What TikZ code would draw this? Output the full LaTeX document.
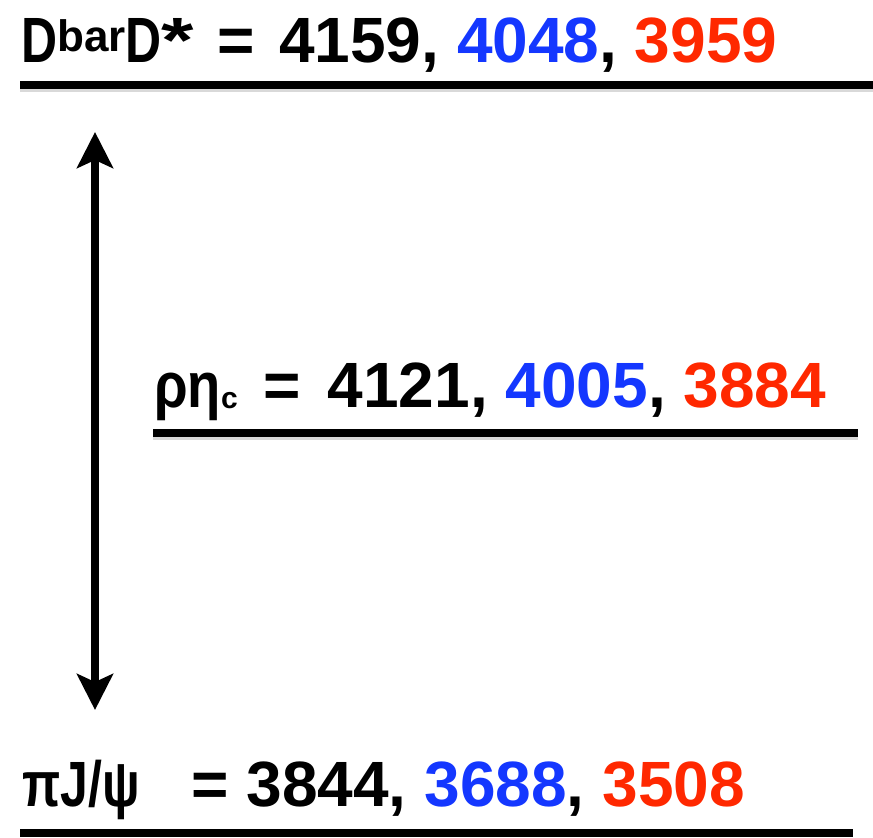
\documentclass[tikz,border=0pt]{standalone}
\usepackage{fontspec}
\setmainfont{Liberation Sans}
\usetikzlibrary{arrows.meta}
\definecolor{ablue}{RGB}{20,55,255}
\definecolor{ared}{RGB}{255,40,0}
\newcommand{\mysup}[1]{\raisebox{11pt}{\fontsize{44}{44}\selectfont #1}}
\newcommand{\mysub}[1]{\raisebox{-1pt}{\fontsize{30}{30}\selectfont #1}}
\newcommand{\narrow}[2]{\scalebox{#1}[1]{#2}}
\begin{document}
\begin{tikzpicture}[x=1pt,y=-1pt,
  lbl/.style={anchor=base west,inner sep=0pt,font=\fontsize{64}{64}\selectfont\bfseries},
  level/.style={line width=8pt},
  shadow/.style={line width=8pt,black!15},
  dbl/.style={line width=7.5pt,{Stealth[length=36pt,width=36pt,inset=8pt]}-{Stealth[length=36pt,width=36pt,inset=8pt]}}]
\useasboundingbox (0,0) rectangle (873,838);
\node[lbl] (t1) at (21,62) {\narrow{0.78}{D}\mysup{bar}\narrow{0.78}{D}\scalebox{1.3}[1]{*}\hspace{6pt} = \hspace{6pt}4159, \textcolor{ablue}{4048}, \textcolor{ared}{3959}};
\node[lbl] (t2) at (154,407) {\narrow{0.85}{ρη}\mysub{c}\hspace{8pt} = \hspace{9pt}4121, \textcolor{ablue}{4005}, \textcolor{ared}{3884}};
\node[lbl] (t3) at (22,806) {\narrow{0.78}{πJ/ψ}\hspace{34pt} = 3844, \textcolor{ablue}{3688}, \textcolor{ared}{3508}};
\coordinate (l1a) at (20,85); \coordinate (l1b) at (873,85);
\coordinate (l2a) at (153,433); \coordinate (l2b) at (858,433);
\coordinate (l3a) at (20,833); \coordinate (l3b) at (853,833);
\draw[shadow] ([yshift=-3pt]l1a) -- ([yshift=-3pt]l1b);
\draw[shadow] ([yshift=-3pt]l2a) -- ([yshift=-3pt]l2b);
\draw[level] (l1a) -- (l1b);
\draw[level] (l2a) -- (l2b);
\draw[level] (l3a) -- (l3b);
\coordinate (atop) at (95,132); \coordinate (abot) at (95,710);
\draw[dbl] (atop) -- (abot);
\end{tikzpicture}
\end{document}
